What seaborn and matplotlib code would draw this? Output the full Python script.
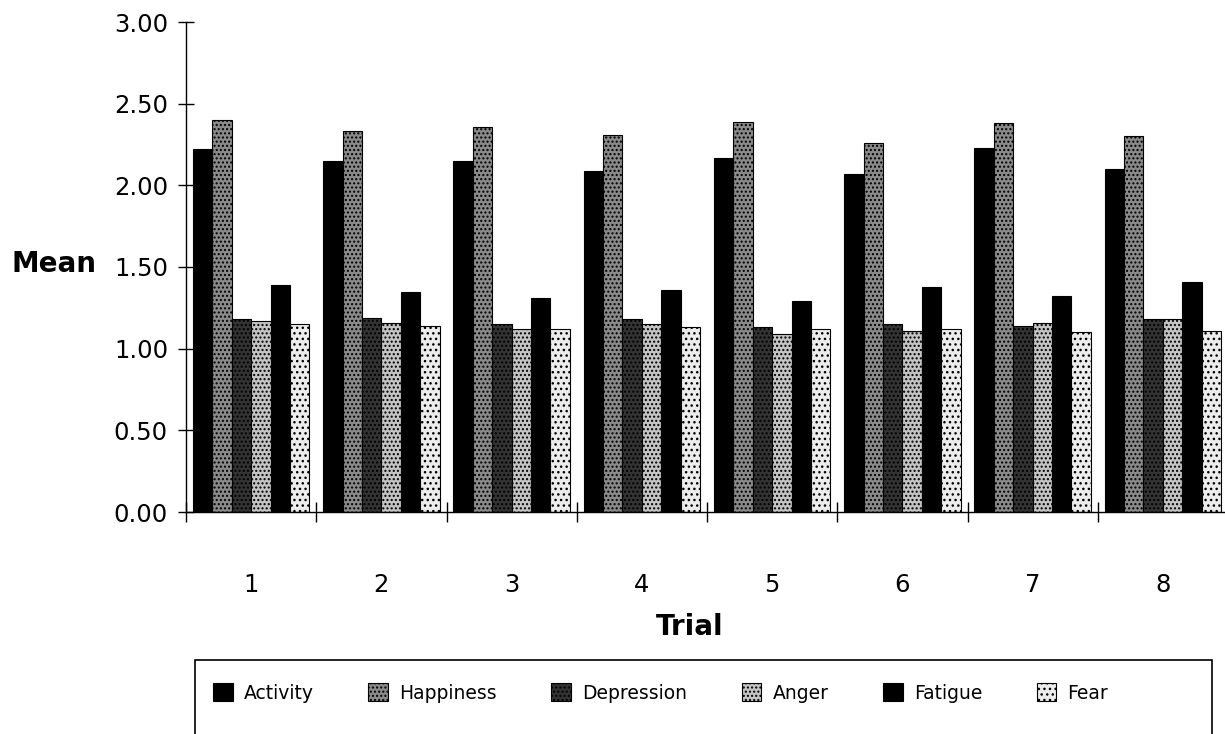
import matplotlib
matplotlib.use("Agg")
import matplotlib.pyplot as plt
from matplotlib.patches import Patch, Rectangle
from matplotlib.ticker import FixedLocator, FormatStrFormatter
import seaborn as sns
import pandas as pd

# ---- data ----
trials = ["1", "2", "3", "4", "5", "6", "7", "8"]
series = ["Activity", "Happiness", "Depression", "Anger", "Fatigue", "Fear"]
activity   = [2.22, 2.15, 2.15, 2.09, 2.17, 2.07, 2.23, 2.10]
happiness  = [2.40, 2.33, 2.36, 2.31, 2.39, 2.26, 2.38, 2.30]
depression = [1.18, 1.19, 1.15, 1.18, 1.13, 1.15, 1.14, 1.18]
anger      = [1.17, 1.16, 1.12, 1.15, 1.09, 1.11, 1.16, 1.18]
fatigue    = [1.39, 1.35, 1.31, 1.36, 1.29, 1.38, 1.32, 1.41]
fear       = [1.15, 1.14, 1.12, 1.13, 1.12, 1.12, 1.10, 1.11]
yticks = [0.0, 0.5, 1.0, 1.5, 2.0, 2.5, 3.0]

values = [activity, happiness, depression, anger, fatigue, fear]
rows = []
for s, vals in zip(series, values):
    for t, v in zip(trials, vals):
        rows.append({"Trial": t, "Series": s, "Mean": v})
df = pd.DataFrame(rows)

# ---- styles ----
face = {"Activity": "#000000", "Happiness": "#8a8a8a", "Depression": "#333333",
        "Anger": "#c4c4c4", "Fatigue": "#000000", "Fear": "#ececec"}
hatch = {"Activity": None, "Happiness": "....", "Depression": "....",
         "Anger": "....", "Fatigue": None, "Fear": "..."}

sns.set_theme(style="white")
plt.rcParams["font.family"] = ["DejaVu Sans"]
plt.rcParams["hatch.linewidth"] = 1.0
for k in ["text.color", "axes.labelcolor", "xtick.color", "ytick.color"]:
    plt.rcParams[k] = "black"

fig = plt.figure(figsize=(12.25, 7.34), dpi=100)
ax = fig.add_axes([186 / 1225, 1 - 512 / 734, 1042 / 1225, 490 / 734])

sns.barplot(data=df, x="Trial", y="Mean", hue="Series", order=trials,
            hue_order=series, palette=face, width=0.895, gap=0,
            edgecolor="black", linewidth=0.8, saturation=1, legend=False, ax=ax)

for cont, s in zip(ax.containers, series):
    for bar in cont:
        bar.set_facecolor(face[s])
        bar.set_edgecolor("black")
        if hatch[s]:
            bar.set_hatch(hatch[s])

ax.set_xlim(-0.5, 7.5)
ax.set_ylim(0, 3.0)
ax.set_yticks(yticks)
ax.yaxis.set_major_formatter(FormatStrFormatter("%.2f"))
ax.tick_params(axis="y", direction="inout", length=12, width=1, color="black",
               labelsize=17.5, pad=7, left=True)
ax.tick_params(axis="x", which="major", length=0, labelsize=17.5, pad=44)
ax.xaxis.set_minor_locator(FixedLocator([i - 0.5 for i in range(len(trials) + 1)]))
ax.tick_params(axis="x", which="minor", direction="inout", length=14, width=1,
               color="black", bottom=True)

for sp in ["top", "right"]:
    ax.spines[sp].set_visible(False)
for sp in ["left", "bottom"]:
    ax.spines[sp].set_color("black")
    ax.spines[sp].set_linewidth(1.0)

ax.set_ylabel("Mean", fontsize=20, fontweight="bold", rotation=0,
              ha="right", va="center")
ax.yaxis.set_label_coords((96 - 186) / 1042, (512 - 264) / 490)
ax.set_xlabel("Trial", fontsize=20, fontweight="bold", va="center")
ax.xaxis.set_label_coords((690 - 186) / 1042, -(627 - 512) / 490)

handles = [Patch(facecolor=face[s], edgecolor="black", hatch=hatch[s], linewidth=0.8)
           for s in series]
fig.legend(handles, series, loc="center left",
           bbox_to_anchor=(213 / 1225, 1 - 693 / 734), ncol=6, frameon=False,
           fontsize=13.5, handlelength=1.05, handleheight=1.05, handletextpad=0.6,
           columnspacing=2.9, borderpad=0, borderaxespad=0)

fig.patches.append(Rectangle((195 / 1225, -0.05), (1212 - 195) / 1225,
                             0.05 + (1 - 660 / 734), transform=fig.transFigure,
                             fill=False, edgecolor="black", linewidth=1.2))

fig.savefig("out.png", dpi=100)
